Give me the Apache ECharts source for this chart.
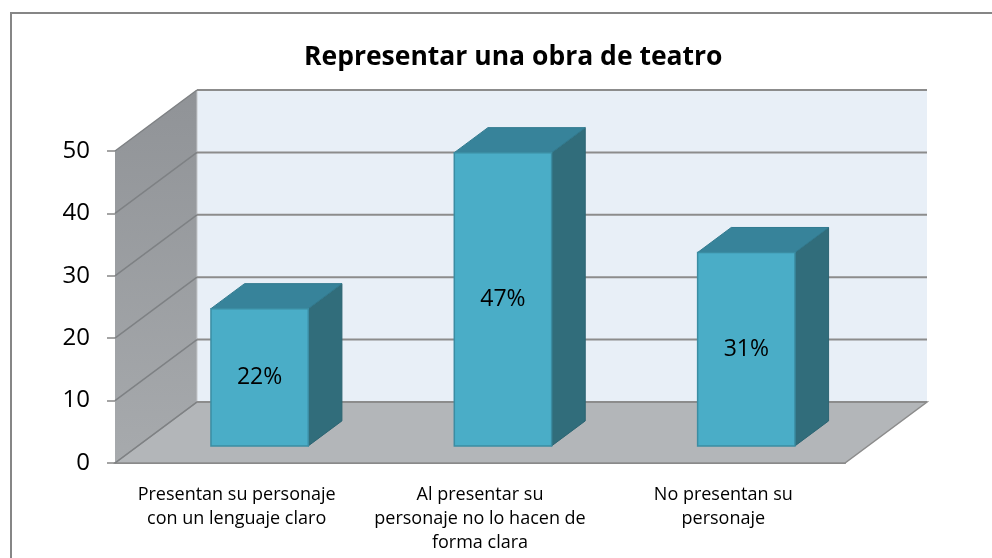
<!DOCTYPE html>
<html lang="es">
<head>
<meta charset="UTF-8">
<title>Representar una obra de teatro</title>
<script src="https://cdn.jsdelivr.net/npm/echarts@6/dist/echarts.min.js"></script>
<style>
    html, body { margin: 0; padding: 0; background: #fff; }
    #chart { width: 992px; height: 558px; }
</style>
</head>
<body>
<div id="chart"></div>
<script>
// datos
var categories = [
    'Presentan su personaje\ncon un lenguaje claro',
    'Al presentar su\npersonaje no lo hacen de\nforma clara',
    'No presentan su\npersonaje'
];
var values = [22, 47, 31];
var valueLabels = ['22%', '47%', '31%'];
var yTicks = [0, 10, 20, 30, 40, 50];

// fake 3D: depth vector of the floor, bar placement inside that depth
var DEPTH = [82, -61];
var BAR_FRONT = 0.28, BAR_DEPTH = 0.41, BAR_WIDTH = 0.4;
var FONT = '"Open Sans", sans-serif';

var chart = echarts.init(document.getElementById('chart'));

function renderWalls(params, api) {
    var cs = params.coordSys;
    var x0 = cs.x, x1 = cs.x + cs.width, yTop = cs.y, yBot = cs.y + cs.height;
    var dx = DEPTH[0], dy = DEPTH[1];
    return {
        type: 'group',
        children: [
            {
                type: 'polygon',
                shape: { points: [[x0, yTop], [x0 + dx, yTop + dy], [x0 + dx, yBot + dy], [x0, yBot]] },
                style: {
                    fill: new echarts.graphic.LinearGradient(0, 0, 0, 1, [
                        { offset: 0, color: '#909397' },
                        { offset: 1, color: '#a7aaad' }
                    ])
                }
            },
            {
                type: 'rect',
                shape: { x: x0 + dx, y: yTop + dy, width: x1 - x0, height: cs.height },
                style: { fill: '#e8eff7' }
            },
            {
                type: 'line',
                shape: { x1: x0 + dx, y1: yTop + dy, x2: x0 + dx, y2: yBot + dy },
                style: { stroke: '#c4c7ca', lineWidth: 1 }
            },
            {
                type: 'polygon',
                shape: { points: [[x0, yBot], [x0 + dx, yBot + dy], [x1 + dx, yBot + dy], [x1, yBot]] },
                style: { fill: '#b3b6b9', stroke: '#8c8c8c', lineWidth: 1.5 }
            }
        ]
    };
}

function renderGrid(params, api) {
    var cs = params.coordSys;
    var x0 = cs.x, x1 = cs.x + cs.width;
    var y = api.coord([0, api.value(1)])[1];
    var dx = DEPTH[0], dy = DEPTH[1];
    return {
        type: 'group',
        children: [
            {
                type: 'line',
                shape: { x1: x0, y1: y, x2: x0 + dx, y2: y + dy },
                style: { stroke: '#7e8184', lineWidth: 1.5 }
            },
            {
                type: 'line',
                shape: { x1: x0 + dx, y1: y + dy, x2: x1 + dx, y2: y + dy },
                style: { stroke: '#8c8c8c', lineWidth: 2 }
            }
        ]
    };
}

function renderBar(params, api) {
    var i = api.value(0), v = api.value(1);
    var base = api.coord([i, 0]), top = api.coord([i, v]);
    var w = api.size([1, 0])[0] * BAR_WIDTH;
    var fx = DEPTH[0] * BAR_FRONT, fy = DEPTH[1] * BAR_FRONT;
    var bx = DEPTH[0] * BAR_DEPTH, by = DEPTH[1] * BAR_DEPTH;
    var l = base[0] - w / 2 + fx, r = l + w;
    var t = top[1] + fy, b = base[1] + fy;
    return {
        type: 'group',
        children: [
            {
                type: 'polygon',
                shape: { points: [[r, t], [r + bx, t + by], [r + bx, b + by], [r, b]] },
                style: { fill: '#316d7b', stroke: '#2c6472', lineWidth: 1 }
            },
            {
                type: 'polygon',
                shape: { points: [[l, t], [l + bx, t + by], [r + bx, t + by], [r, t]] },
                style: { fill: '#37839a', stroke: '#317a8f', lineWidth: 1 }
            },
            {
                type: 'rect',
                shape: { x: l, y: t, width: w, height: b - t },
                style: { fill: '#4aadc7', stroke: '#3b8da3', lineWidth: 1.5 }
            },
            {
                type: 'text',
                style: {
                    text: valueLabels[params.dataIndex],
                    x: (l + r) / 2,
                    y: (t + b) / 2,
                    align: 'center',
                    verticalAlign: 'middle',
                    fontSize: 23,
                    fontFamily: FONT,
                    fill: '#000'
                }
            }
        ]
    };
}

var option = {
    animation: false,
    title: {
        text: 'Representar una obra de teatro',
        left: 299,
        top: 39,
        textStyle: { fontSize: 26.5, fontWeight: 'bold', color: '#000', fontFamily: FONT }
    },
    graphic: [{
        type: 'rect',
        shape: { x: 11, y: 13, width: 990, height: 560 },
        style: { fill: null, stroke: '#868686', lineWidth: 2 },
        silent: true
    }],
    grid: { left: 115, right: 147, top: 151, bottom: 95 },
    xAxis: {
        type: 'category',
        data: categories,
        axisLine: { lineStyle: { color: '#868686', width: 2 } },
        axisTick: { length: 6, lineStyle: { color: '#868686', width: 1.5 } },
        axisLabel: {
            interval: 0,
            margin: 20,
            fontSize: 18,
            lineHeight: 24,
            color: '#000',
            fontFamily: FONT
        },
        splitLine: { show: false }
    },
    yAxis: {
        type: 'value',
        min: 0,
        max: 50,
        interval: 10,
        axisLine: { show: false },
        axisTick: { show: true, length: 8, lineStyle: { color: '#868686', width: 1.5 } },
        axisLabel: { margin: 25, fontSize: 24, color: '#000', fontFamily: FONT },
        splitLine: { show: false }
    },
    series: [
        {
            type: 'custom',
            z: 1,
            silent: true,
            renderItem: renderWalls,
            data: [[0, 0]]
        },
        {
            type: 'custom',
            z: 2,
            silent: true,
            renderItem: renderGrid,
            data: yTicks.map(function (v) { return [0, v]; })
        },
        {
            type: 'custom',
            z: 3,
            renderItem: renderBar,
            data: values.map(function (v, i) { return [i, v]; })
        }
    ]
};

chart.setOption(option);
</script>
</body>
</html>
